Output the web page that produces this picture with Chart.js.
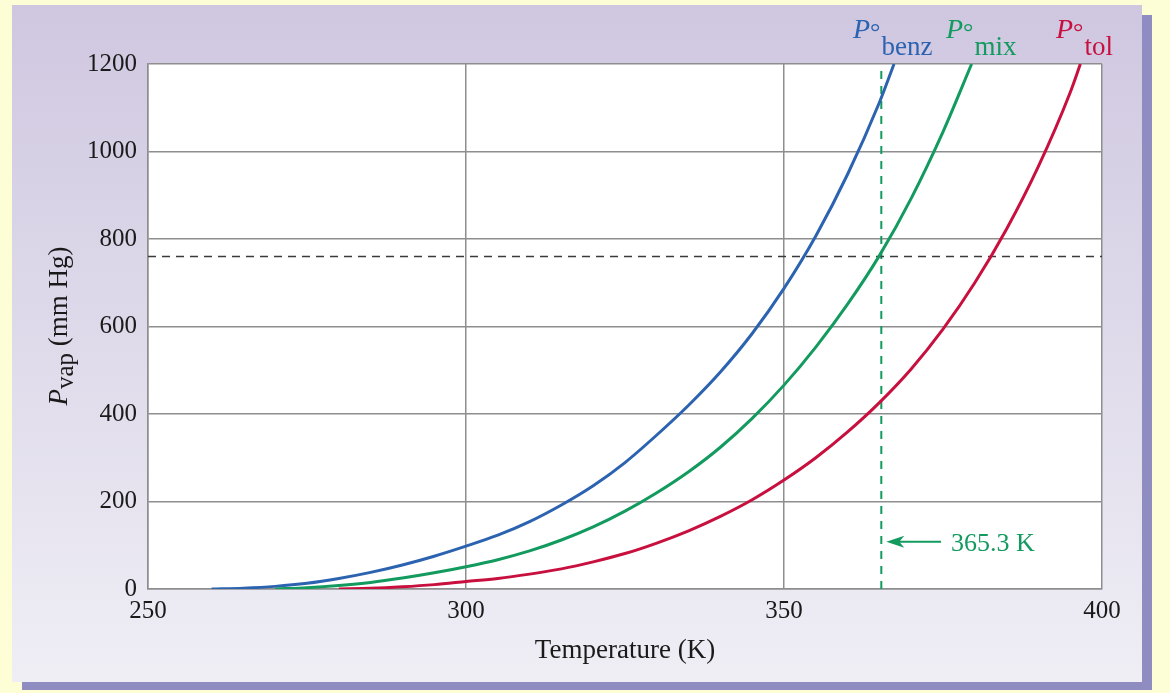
<!DOCTYPE html>
<html>
<head>
<meta charset="utf-8">
<script src="https://cdn.jsdelivr.net/npm/chart.js@4/dist/chart.umd.min.js"></script>
<style>
  html, body { margin: 0; padding: 0; background: #fefed6; }
  #wrap { width: 1170px; height: 693px; }
</style>
</head>
<body>
<div id="wrap"><canvas id="chart" width="1170" height="693"></canvas></div>
<script>
// vapour pressure curves (T in K, P in mm Hg)
const benzT = [260, 265, 270, 275, 280, 285, 290, 295, 300, 305, 310, 315, 320, 325, 330, 335, 340, 345, 350, 355, 360, 365, 367.3];
const benzP = [0, 2, 6, 13, 24, 38, 55, 75, 98, 123, 154, 192, 236, 289, 352, 420, 496, 584, 687, 807, 948, 1112, 1200];

const mixT = [270, 275, 280, 285, 290, 295, 300, 305, 310, 315, 320, 325, 330, 335, 340, 345, 350, 355, 360, 365, 370, 375, 379.5];
const mixP = [0, 3, 8, 15, 25, 37, 51, 67, 87, 112, 142, 178, 220, 268, 324, 390, 466, 553, 651, 762, 893, 1045, 1200];

const tolT = [280, 285, 290, 295, 300, 305, 310, 315, 320, 325, 330, 335, 340, 345, 350, 355, 360, 365, 370, 375, 380, 385, 390, 395, 396.6];
const tolP = [0, 1.5, 5, 10, 17, 24, 34, 46, 62, 81, 105, 133, 166, 204, 249, 300, 359, 426, 503, 594, 700, 823, 966, 1135, 1200];

const xTicks = [250, 300, 350, 400];
const yTicks = [0, 200, 400, 600, 800, 1000, 1200];

const atmP = 760;        // dashed horizontal line
const boilT = 365.3;     // dashed vertical line
const boilLabel = '365.3 K';
const arrowFromT = 374.7;
const arrowP = 108;

const BLUE = '#2b63b0';
const GREEN = '#139a5e';
const RED = '#c8103f';
const GRID = '#8e8e8e';
const SERIF = '"Liberation Serif", "Times New Roman", serif';

function pts(xs, ys) {
  return xs.map((x, i) => ({ x, y: ys[i] }));
}

const backdrop = {
  id: 'backdrop',
  beforeDraw(chart) {
    const { ctx, chartArea: a } = chart;
    ctx.save();
    ctx.fillStyle = '#fefed6';
    ctx.fillRect(0, 0, chart.width, chart.height);
    // shadow
    ctx.fillStyle = '#8e8cc0';
    ctx.fillRect(22, 15, 1130, 675);
    // panel
    const g = ctx.createLinearGradient(0, 5, 0, 682);
    g.addColorStop(0, '#cfc7e0');
    g.addColorStop(1, '#efeef5');
    ctx.fillStyle = g;
    ctx.fillRect(12, 5, 1130, 677);
    ctx.fillStyle = '#ffffff';
    ctx.fillRect(a.left, a.top, a.right - a.left, a.bottom - a.top);
    ctx.restore();
  }
};

// labels with sub/superscripts and the arrow note
const labels = {
  id: 'labels',
  afterDraw(chart) {
    const { ctx, scales } = chart;
    ctx.save();
    ctx.textBaseline = 'alphabetic';
    ctx.textAlign = 'left';

    function curveLabel(x, color, sub) {
      ctx.fillStyle = color;
      ctx.font = 'italic 28px ' + SERIF;
      ctx.fillText('P', x, 38);
      const w = ctx.measureText('P').width;
      ctx.font = '26px ' + SERIF;
      ctx.fillText('°', x + w, 40);
      const wd = ctx.measureText('°').width;
      ctx.font = '27px ' + SERIF;
      ctx.fillText(sub, x + w + wd + 1, 55);
    }
    curveLabel(853, BLUE, 'benz');
    curveLabel(946, GREEN, 'mix');
    curveLabel(1056, RED, 'tol');

    // y axis title
    ctx.save();
    ctx.translate(67, 326);
    ctx.rotate(-Math.PI / 2);
    ctx.fillStyle = '#1a1a1a';
    ctx.font = 'italic 27px ' + SERIF;
    const wP = ctx.measureText('P').width;
    ctx.font = '25px ' + SERIF;
    const wSub = ctx.measureText('vap').width;
    ctx.font = '27px ' + SERIF;
    const wRest = ctx.measureText(' (mm Hg)').width;
    let x0 = -(wP + wSub + wRest) / 2;
    ctx.font = 'italic 27px ' + SERIF;
    ctx.fillText('P', x0, 0);
    ctx.font = '25px ' + SERIF;
    ctx.fillText('vap', x0 + wP, 6);
    ctx.font = '27px ' + SERIF;
    ctx.fillText(' (mm Hg)', x0 + wP + wSub, 0);
    ctx.restore();

    // arrow pointing at the boiling temperature
    const xs = scales.x, ys = scales.y;
    const tipX = xs.getPixelForValue(boilT) + 5;
    const tailX = xs.getPixelForValue(arrowFromT);
    const ay = ys.getPixelForValue(arrowP);
    ctx.strokeStyle = GREEN;
    ctx.fillStyle = GREEN;
    ctx.lineWidth = 2;
    ctx.beginPath();
    ctx.moveTo(tipX + 10, ay);
    ctx.lineTo(tailX, ay);
    ctx.stroke();
    ctx.beginPath();
    ctx.moveTo(tipX, ay);
    ctx.lineTo(tipX + 18, ay - 6);
    ctx.lineTo(tipX + 13, ay);
    ctx.lineTo(tipX + 18, ay + 6);
    ctx.closePath();
    ctx.fill();
    ctx.font = '26px ' + SERIF;
    ctx.textBaseline = 'middle';
    ctx.fillText(boilLabel, tailX + 10, ay + 2);
    ctx.restore();
  }
};

const lineStyle = { pointRadius: 0, borderWidth: 3, fill: false, cubicInterpolationMode: 'monotone' };

new Chart(document.getElementById('chart'), {
  type: 'line',
  data: {
    datasets: [
      { label: 'Pvap tol', data: pts(tolT, tolP), borderColor: RED, ...lineStyle },
      { label: 'Pvap mix', data: pts(mixT, mixP), borderColor: GREEN, ...lineStyle },
      { label: 'Pvap benz', data: pts(benzT, benzP), borderColor: BLUE, ...lineStyle },
      {
        label: '760 mm Hg',
        data: [{ x: xTicks[0], y: atmP }, { x: xTicks[xTicks.length - 1], y: atmP }],
        borderColor: '#3a3a3a', borderWidth: 1.6, borderDash: [8, 6], pointRadius: 0
      },
      {
        label: 'boiling point',
        data: [{ x: boilT, y: yTicks[0] }, { x: boilT, y: yTicks[yTicks.length - 1] }],
        borderColor: GREEN, borderWidth: 2, borderDash: [8, 7], pointRadius: 0
      }
    ]
  },
  options: {
    responsive: false,
    animation: false,
    layout: { padding: { top: 64, right: 68, bottom: 0, left: 0 } },
    plugins: { legend: { display: false }, tooltip: { enabled: false } },
    scales: {
      x: {
        type: 'linear',
        min: 250, max: 400,
        afterBuildTicks: s => { s.ticks = xTicks.map(v => ({ value: v })); },
        afterFit: s => { s.height = 104; },
        grid: { color: GRID, lineWidth: 1.5, drawTicks: false },
        border: { color: GRID, width: 1.5 },
        ticks: {
          color: '#1a1a1a', padding: 7, font: { family: SERIF, size: 25 },
          callback: v => String(v)
        },
        title: {
          display: true, text: 'Temperature (K)', color: '#1a1a1a',
          font: { family: SERIF, size: 27 }, padding: { top: 0, bottom: 26 }
        }
      },
      y: {
        type: 'linear',
        min: 0, max: 1200,
        afterBuildTicks: s => { s.ticks = yTicks.map(v => ({ value: v })); },
        afterFit: s => { s.width = 148; },
        grid: { color: GRID, lineWidth: 1.5, drawTicks: false },
        border: { color: GRID, width: 1.5 },
        ticks: {
          color: '#1a1a1a', padding: 11, font: { family: SERIF, size: 25 },
          callback: v => String(v)
        }
      }
    }
  },
  plugins: [backdrop, labels]
});
</script>
</body>
</html>
